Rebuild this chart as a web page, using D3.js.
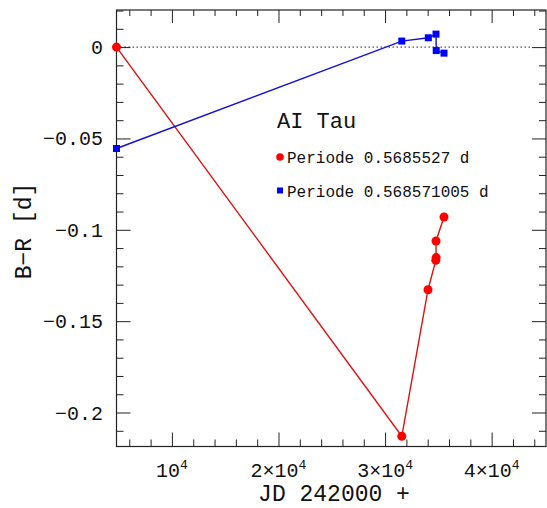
<!DOCTYPE html>
<html><head><meta charset="utf-8">
<script src="https://cdn.jsdelivr.net/npm/d3@7"></script>
<style>
html,body{margin:0;padding:0;background:#fff;}
svg{display:block;}
text{font-family:"Liberation Mono","DejaVu Sans Mono",monospace;fill:#111;}
</style></head>
<body><svg id="c" width="547" height="508"></svg>
<script>
const redX = [4800, 31570, 34030, 34760, 34790, 34780, 35530];
const redY = [0, -0.213, -0.1328, -0.1167, -0.1152, -0.1061, -0.093];
const blueX = [4800, 31570, 34060, 34780, 34800, 35530];
const blueY = [-0.0555, 0.0033, 0.0051, 0.0071, -0.0019, -0.0033];
const xMajor = [10000, 20000, 30000, 40000];
const xMant = ["10", "2×10", "3×10", "4×10"];
const xExp = "4";
const yMajor = [0, -0.05, -0.1, -0.15, -0.2];
const yLabels = ["0", "−0.05", "−0.1", "−0.15", "−0.2"];
const title = "AI Tau";
const seriesNames = ["Periode 0.5685527 d", "Periode 0.568571005 d"];

const L = 116.5, R = 546, T = 10, B = 446.5;
const svg = d3.select("#c");
const x = d3.scaleLinear().domain([4800, 45100]).range([L, R]);
const y = d3.scaleLinear().domain([-0.2186, 0.0203]).range([B, T]);

const xMinor = d3.range(6000, 45100, 2000).filter(v => !xMajor.includes(v));
const yMinor = d3.range(-21, 3, 1).map(v => v / 100).filter(v => !yMajor.some(m => Math.abs(m - v) < 1e-9));

function ax(gen, tx, ty, vals, size) {
  const g = svg.append("g").attr("transform", `translate(${tx},${ty})`)
    .call(gen.tickValues(vals).tickSize(size).tickFormat(""));
  g.select(".domain").remove();
  g.selectAll("line").attr("stroke", "#222").attr("stroke-width", 1);
  return g;
}
ax(d3.axisBottom(x), 0, B, xMajor, -14);
ax(d3.axisBottom(x), 0, B, xMinor, -7);
ax(d3.axisTop(x), 0, T, xMajor, -13);
ax(d3.axisTop(x), 0, T, xMinor, -6);
ax(d3.axisLeft(y), L, 0, yMajor, -14);
ax(d3.axisLeft(y), L, 0, yMinor, -7);
ax(d3.axisRight(y), R, 0, yMajor, -14);
ax(d3.axisRight(y), R, 0, yMinor, -7);

svg.append("rect").attr("x", L).attr("y", T).attr("width", R - L).attr("height", B - T)
  .attr("fill", "none").attr("stroke", "#222").attr("stroke-width", 1.2);

// zero dotted line
svg.append("line").attr("x1", L).attr("x2", R - 14).attr("y1", y(0)).attr("y2", y(0))
  .attr("stroke", "#222").attr("stroke-width", 1).attr("stroke-dasharray", "1.5,2.5");

// x tick labels
xMajor.forEach((v, i) => {
  const t = svg.append("text").attr("x", x(v)).attr("y", 477).attr("text-anchor", "middle")
    .attr("font-size", 20);
  t.append("tspan").text(xMant[i]);
  t.append("tspan").attr("dy", -8).attr("font-size", 13).text(xExp);
});
// y tick labels
yMajor.forEach((v, i) => {
  svg.append("text").attr("x", 103).attr("y", y(v) + 7).attr("text-anchor", "end")
    .attr("font-size", 20).text(yLabels[i]);
});
svg.append("text").attr("x", 334).attr("y", 501).attr("text-anchor", "middle")
  .attr("font-size", 23).text("JD 242000 +");
svg.append("text").attr("transform", "translate(31,231) rotate(-90)").attr("text-anchor", "middle")
  .attr("font-size", 23).text("B−R [d]");

// series
const redPts = redX.map((v, i) => [v, redY[i]]);
const bluePts = blueX.map((v, i) => [v, blueY[i]]);
const line = d3.line().x(d => x(d[0])).y(d => y(d[1]));
svg.append("path").attr("d", line(redPts)).attr("fill", "none").attr("stroke", "#e01010").attr("stroke-width", 1.4);
svg.append("path").attr("d", line(bluePts)).attr("fill", "none").attr("stroke", "#1010d0").attr("stroke-width", 1.4);
svg.selectAll(".rp").data(redPts).enter().append("circle")
  .attr("cx", d => x(d[0])).attr("cy", d => y(d[1])).attr("r", 4.5).attr("fill", "#ff0000");
svg.selectAll(".bp").data(bluePts).enter().append("rect")
  .attr("x", d => x(d[0]) - 3.5).attr("y", d => y(d[1]) - 3.5).attr("width", 7).attr("height", 7).attr("fill", "#0000ff");

// legend
svg.append("text").attr("x", 277).attr("y", 128).attr("font-size", 22).text(title);
svg.append("circle").attr("cx", 280).attr("cy", 157).attr("r", 3.8).attr("fill", "#ff0000");
svg.append("text").attr("x", 287).attr("y", 163).attr("font-size", 16).text(seriesNames[0]);
svg.append("rect").attr("x", 277).attr("y", 187.5).attr("width", 6).attr("height", 6).attr("fill", "#0000ff");
svg.append("text").attr("x", 287).attr("y", 197).attr("font-size", 16).text(seriesNames[1]);
</script></body></html>
